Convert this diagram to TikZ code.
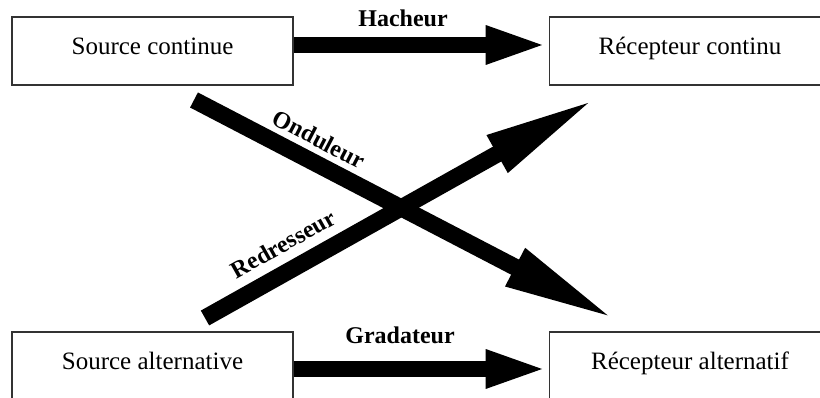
\documentclass[tikz,border=0pt]{standalone}
\usepackage{fontspec}
\setmainfont{Liberation Serif}
\usetikzlibrary{arrows.meta}

\begin{document}
\begin{tikzpicture}[x=1pt,y=1pt,
    boite/.style={draw=black!80,line width=1.6pt,minimum width=281pt,minimum height=68pt,
        inner sep=0pt,text height=14pt,text depth=6pt,font=\fontsize{25}{30}\selectfont},
    fleche/.style={line width=16pt,-{Triangle[length=63pt,width=34pt]}},
    croix/.style={line width=17pt,-{Triangle[length=115pt,width=38pt]}},
    etiquette/.style={font=\bfseries\fontsize{24}{28}\selectfont}]
    \useasboundingbox (0,0) rectangle (820,398);
    \clip (0,0) rectangle (820,398);

    \node[boite] (SC) at (152.5,347) {Source continue};
    \node[boite] (RC) at (690,347) {Récepteur continu};
    \node[boite] (SA) at (152.5,32) {Source alternative};
    \node[boite] (RA) at (690,32) {Récepteur alternatif};

    \draw[fleche] ([yshift=6pt]SC.east) -- ([yshift=6pt]RC.west);
    \draw[fleche] ([yshift=-3pt]SA.east) -- ([yshift=-3pt]RA.west);

    \path[coordinate] (194,298) coordinate(O1)
                ++(-27.5:477) coordinate(O2);
    \path[coordinate] (205,80) coordinate(R1)
                ++(29.3:450) coordinate(R2);
    \draw[croix] (O1) -- (O2);
    \draw[croix] (R1) -- (R2);

    \node[etiquette] (H) at (403,380) {Hacheur};
    \node[etiquette] (G) at (400,62.5) {Gradateur};
    \node[etiquette,rotate=-27.5] (O) at (319,259) {Onduleur};
    \node[etiquette,rotate=29.3] (R) at (283,154) {Redresseur};
\end{tikzpicture}
\end{document}
